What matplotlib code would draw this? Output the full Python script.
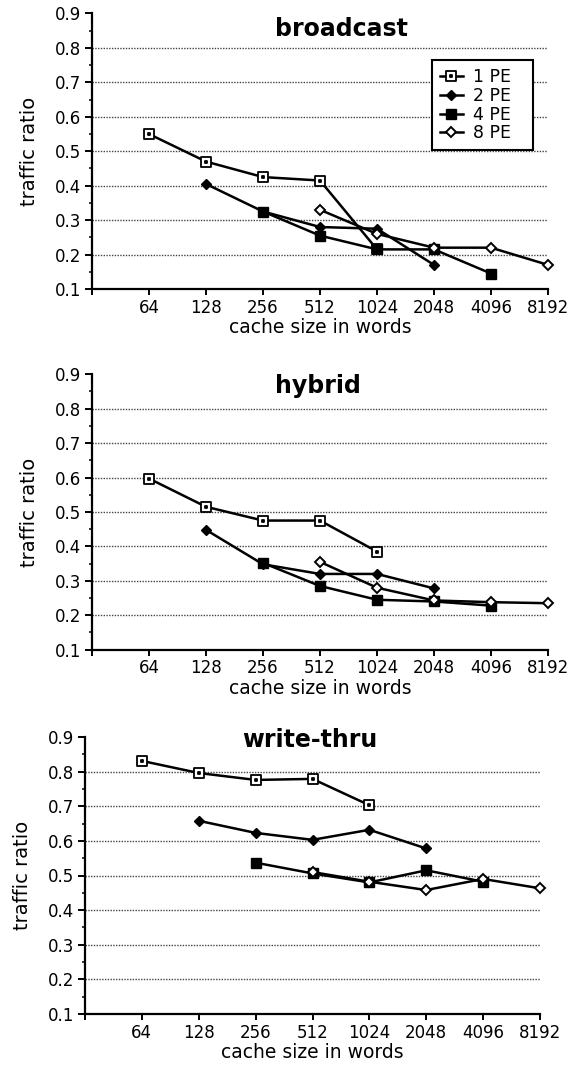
"""Traffic ratio vs cache size"""
import matplotlib
matplotlib.use("Agg")
import matplotlib.pyplot as plt
from matplotlib.path import Path

# data
cache_sizes = [64, 128, 256, 512, 1024, 2048, 4096, 8192]
size_labels = ["64", "128", "256", "512", "1024", "2048", "4096", "8192"]
pe_labels = ["1 PE", "2 PE", "4 PE", "8 PE"]

broadcast_1pe = [0.55, 0.47, 0.425, 0.415, 0.215]
broadcast_2pe = [0.405, 0.325, 0.28, 0.275, 0.17]
broadcast_4pe = [0.325, 0.255, 0.215, 0.215, 0.145]
broadcast_8pe = [0.33, 0.26, 0.22, 0.22, 0.17]

hybrid_1pe = [0.597, 0.515, 0.475, 0.475, 0.385]
hybrid_2pe = [0.448, 0.348, 0.32, 0.32, 0.278]
hybrid_4pe = [0.352, 0.285, 0.245, 0.24, 0.228]
hybrid_8pe = [0.355, 0.28, 0.243, 0.238, 0.235]

writethru_1pe = [0.831, 0.796, 0.776, 0.779, 0.703]
writethru_2pe = [0.658, 0.623, 0.603, 0.632, 0.578]
writethru_4pe = [0.537, 0.506, 0.48, 0.515, 0.482]
writethru_8pe = [0.51, 0.482, 0.458, 0.49, 0.463]

# each series starts one cache size later
pe_start = [0, 1, 2, 3]

# open square with a dot in the middle
sq = [(-1, -1), (1, -1), (1, 1), (-1, 1), (-1, -1)]
dot = [(-0.12, -0.12), (0.12, -0.12), (0.12, 0.12), (-0.12, 0.12), (-0.12, -0.12)]
codes = [Path.MOVETO, Path.LINETO, Path.LINETO, Path.LINETO, Path.CLOSEPOLY]
dot_square = Path(sq + dot, codes + codes)

styles = [
    dict(marker=dot_square, markersize=7.5, mfc="white", mec="black", mew=1.3),
    dict(marker="D", markersize=5.5, mfc="black", mec="black", mew=1.0),
    dict(marker="s", markersize=7, mfc="black", mec="black", mew=1.0),
    dict(marker="D", markersize=5.5, mfc="white", mec="black", mew=1.4),
]

plt.rcParams["font.family"] = ["DejaVu Sans"]

fig = plt.figure(figsize=(5.81, 10.76), dpi=100)

panels = [
    ("broadcast", [broadcast_1pe, broadcast_2pe, broadcast_4pe, broadcast_8pe],
     [92 / 581, 787 / 1076, 456 / 581, 275.5 / 1076], (0.546, 0.92)),
    ("hybrid", [hybrid_1pe, hybrid_2pe, hybrid_4pe, hybrid_8pe],
     [92 / 581, 426.3 / 1076, 456 / 581, 275.5 / 1076], (0.495, 0.931)),
    ("write-thru", [writethru_1pe, writethru_2pe, writethru_4pe, writethru_8pe],
     [85 / 581, 62 / 1076, 455 / 581, 277 / 1076], (0.494, 0.964)),
]

for title, series, rect, title_pos in panels:
    ax = fig.add_axes(rect)
    ax.set_xscale("log", base=2)
    ax.set_xlim(32, 8192)
    ax.set_ylim(0.1, 0.9)

    for i, values in enumerate(series):
        xs = cache_sizes[pe_start[i]:pe_start[i] + len(values)]
        ax.plot(xs, values, color="black", lw=1.8, label=pe_labels[i],
                zorder=3, clip_on=False, **styles[i])

    # axes look
    for side in ["top", "right"]:
        ax.spines[side].set_visible(False)
    ax.spines["left"].set_linewidth(1.6)
    ax.spines["bottom"].set_linewidth(1.6)

    ax.set_xticks([32] + cache_sizes)
    ax.set_xticklabels([""] + size_labels)
    ax.xaxis.set_minor_locator(matplotlib.ticker.NullLocator())
    ax.set_yticks([0.1, 0.2, 0.3, 0.4, 0.5, 0.6, 0.7, 0.8, 0.9])
    ax.set_yticks([0.15, 0.25, 0.35, 0.45, 0.55, 0.65, 0.75, 0.85], minor=True)
    ax.tick_params(axis="x", direction="out", length=4, width=1.4, pad=3,
                   labelsize=12)
    ax.tick_params(axis="y", which="major", direction="out", length=5,
                   width=1.4, pad=3, labelsize=12)
    ax.tick_params(axis="y", which="minor", direction="out", length=2.5,
                   width=1.1)

    # dotted grid, but not on the bottom/top edge
    ax.yaxis.grid(True, which="major", color="#444444", lw=1.0,
                  linestyle=(0, (1, 1)), zorder=1)
    grid = ax.get_ygridlines()
    grid[0].set_visible(False)
    grid[-1].set_visible(False)
    ax.set_axisbelow(True)

    ax.set_xlabel("cache size in words", fontsize=13.5, labelpad=1)
    ax.set_ylabel("traffic ratio", fontsize=14, labelpad=11)
    ax.text(title_pos[0], title_pos[1], title, transform=ax.transAxes,
            ha="center", va="baseline", fontsize=17, fontweight="bold")

    if title == "broadcast":
        leg = ax.legend(loc="upper left", bbox_to_anchor=(0.746, 0.476, 0.221, 0.355),
                        mode="expand", borderaxespad=0, fontsize=12.5,
                        handlelength=1.3, handletextpad=0.6, labelspacing=0.05,
                        borderpad=0.45, fancybox=False, framealpha=1,
                        edgecolor="black")
        leg.get_frame().set_linewidth(1.5)
        leg.set_zorder(5)

fig.savefig("out.png", dpi=100)
